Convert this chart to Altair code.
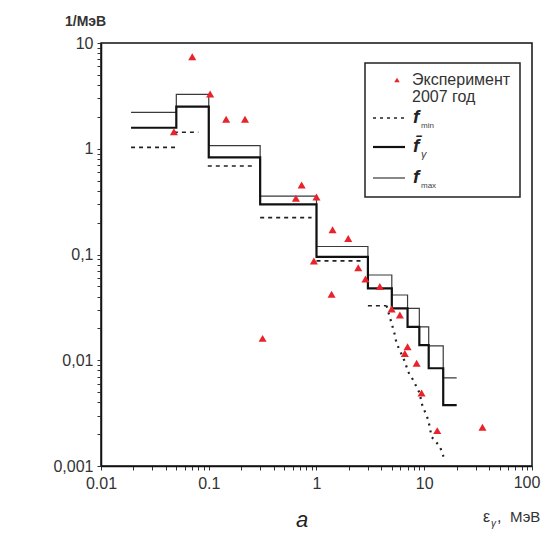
import altair as alt
import pandas as pd

# ---- data ----
edges = [0.019, 0.05, 0.1, 0.3, 1, 3, 5, 7, 9, 11, 15, 20]
mean_vals = [1.58, 2.5, 0.83, 0.298, 0.095, 0.0479, 0.031, 0.0207, 0.0139, 0.0084, 0.00377]
max_vals = [2.21, 3.27, 1.07, 0.357, 0.119, 0.064, 0.0414, 0.031, 0.0207, 0.0137, 0.0068]

min_x0 = [0.019, 0.0475, 0.098, 0.30, 1.0, 3.0]
min_x1 = [0.05, 0.08, 0.26, 0.9, 2.75, 4.47]
min_y = [1.03, 1.43, 0.687, 0.223, 0.087, 0.0328]

tail_x = [4.47, 4.98, 5.34, 5.53, 6.61, 7.09, 7.89, 9.1, 9.44, 10.9, 11.7, 14.0, 15.3]
tail_y = [0.0328, 0.0223, 0.0173, 0.0145, 0.0097, 0.00778, 0.0065, 0.00486, 0.00392,
          0.00272, 0.00189, 0.00152, 0.00118]

exp_x = [0.0475, 0.0703, 0.103, 0.145, 0.217, 0.316, 0.644, 0.728, 1.0, 0.946, 1.41,
         1.97, 1.38, 2.44, 2.85, 3.87, 4.98, 5.94, 7.0, 6.6, 8.5, 9.44, 13.2, 34.7]
exp_y = [1.45, 7.4, 3.3, 1.9, 1.9, 0.0161, 0.34, 0.454, 0.35, 0.087, 0.171,
         0.142, 0.042, 0.075, 0.0586, 0.0497, 0.0305, 0.0268, 0.0134, 0.0116, 0.00935,
         0.0049, 0.00216, 0.00232]

x_tick_values = [0.01, 0.1, 1, 10, 100]
x_tick_labels = ["0.01", "0.1", "1", "10", "100"]
y_tick_values = [10, 1, 0.1, 0.01, 0.001]
y_tick_labels = ["10", "1", "0,1", "0,01", "0,001"]

legend_texts = ["Эксперимент", "2007 год"]
y_title = "1/МэВ"
x_title_parts = ["ε", "γ", ",", "МэВ"]
panel_label = "а"

FONT = "Liberation Sans"
TXT = "#333333"

xd = sorted(x_tick_values)
yd = sorted(y_tick_values)
x_all = x_tick_values + [m * d for d in xd[:-1] for m in range(2, 10)]
y_all = y_tick_values + [m * d for d in yd[:-1] for m in range(2, 10)]


def label_expr(vals, labs, skip_last=False):
    expr = "''"
    pairs = list(zip(vals, labs))
    if skip_last:
        pairs = pairs[:-1]
    for v, l in pairs:
        expr = f"datum.value == {v} ? '{l}' : ({expr})"
    return expr


xs = alt.Scale(type="log", domain=[0.01, 100], nice=False)
ys = alt.Scale(type="log", domain=[0.001, 10], nice=False)

# the last x label ("100") sits at the canvas edge, it is drawn as a text mark below
x_axis = alt.Axis(values=x_all,
                  labelExpr=label_expr(x_tick_values, x_tick_labels, skip_last=True),
                  title=None, grid=False, labelOverlap=False, labelFlush=False,
                  labelPadding=5)
y_axis = alt.Axis(values=y_all, labelExpr=label_expr(y_tick_values, y_tick_labels),
                  title=None, grid=False, labelOverlap=False, labelFlush=False,
                  labelPadding=4)

df_mean = pd.DataFrame({"x": edges, "y": mean_vals + [mean_vals[-1]]})
df_max = pd.DataFrame({"x": edges, "y": max_vals + [max_vals[-1]]})
df_min = pd.DataFrame({"x0": min_x0, "x1": min_x1, "y": min_y})
df_tail = pd.DataFrame({"x": tail_x, "y": tail_y})
df_exp = pd.DataFrame({"x": exp_x, "y": exp_y})
df_last_lab = pd.DataFrame({"x": [x_tick_values[-1]], "t": [x_tick_labels[-1]]})
one = pd.DataFrame({"k": [0]})

max_line = alt.Chart(df_max).mark_line(interpolate="step-after", color="#3a3a3a",
                                       strokeWidth=1.2).encode(
    x=alt.X("x:Q", scale=xs, axis=x_axis),
    y=alt.Y("y:Q", scale=ys, axis=y_axis),
)
mean_line = alt.Chart(df_mean).mark_line(interpolate="step-after", color="#111111",
                                         strokeWidth=2.2).encode(
    x=alt.X("x:Q", scale=xs), y=alt.Y("y:Q", scale=ys))
min_rules = alt.Chart(df_min).mark_rule(color="#222222", strokeWidth=1.6,
                                        strokeDash=[4, 4]).encode(
    x=alt.X("x0:Q", scale=xs), x2="x1:Q", y=alt.Y("y:Q", scale=ys))
min_tail = alt.Chart(df_tail).mark_line(color="#222222", strokeWidth=2.2,
                                        strokeDash=[2, 5]).encode(
    x=alt.X("x:Q", scale=xs), y=alt.Y("y:Q", scale=ys))
points = alt.Chart(df_exp).mark_point(shape="triangle-up", filled=True, color="#e8232b",
                                      size=65, opacity=1).encode(
    x=alt.X("x:Q", scale=xs), y=alt.Y("y:Q", scale=ys))
last_lab = alt.Chart(df_last_lab).mark_text(font=FONT, fontSize=16, color=TXT,
                                            align="center", baseline="top", dx=-5).encode(
    x=alt.X("x:Q", scale=xs), y=alt.value(432), text="t:N")

# ---- legend (drawn by hand) ----
leg_box = alt.Chart(one).mark_rect(fill="white", stroke="#222222", strokeWidth=1.5).encode(
    x=alt.value(264), x2=alt.value(419), y=alt.value(20), y2=alt.value(154))
leg_pt = alt.Chart(one).mark_point(shape="triangle-up", filled=True, color="#e8232b",
                                   size=30, opacity=1).encode(
    x=alt.value(296), y=alt.value(37))
leg_min = alt.Chart(one).mark_rule(color="#222222", strokeWidth=1.6, strokeDash=[3, 4]).encode(
    x=alt.value(272), x2=alt.value(303), y=alt.value(75))
leg_mean = alt.Chart(one).mark_rule(color="#111111", strokeWidth=2.2).encode(
    x=alt.value(272), x2=alt.value(304), y=alt.value(104))
leg_max = alt.Chart(one).mark_rule(color="#3a3a3a", strokeWidth=1.2).encode(
    x=alt.value(272), x2=alt.value(304), y=alt.value(135))


def txt(s, x, y, size=16, style="normal", weight="normal", align="left", color=TXT,
        baseline="middle"):
    return alt.Chart(one).mark_text(align=align, baseline=baseline, font=FONT,
                                    fontSize=size, fontStyle=style, fontWeight=weight,
                                    color=color).encode(
        x=alt.value(x), y=alt.value(y), text=alt.value(s))


texts = [
    txt(legend_texts[0], 311, 37),
    txt(legend_texts[1], 311, 54),
    txt("f", 312, 74, size=19, style="italic", weight="bold", color="#222"),
    txt("min", 320, 83, size=8, color="#444"),
    txt("f\u0304", 312, 103, size=19, style="italic", weight="bold", color="#222"),
    txt("γ", 320, 112, size=11, style="italic", color="#444"),
    txt("f", 312, 134, size=19, style="italic", weight="bold", color="#222"),
    txt("max", 320, 143, size=8, color="#444"),
    txt(y_title, -36, -21, size=14, weight="bold"),
    txt(x_title_parts[0], 382, 474, size=16),
    txt(x_title_parts[1], 390, 481, size=10, style="italic"),
    txt(x_title_parts[2], 396, 474, size=16),
    txt(x_title_parts[3], 409, 474, size=15),
    txt(panel_label, 201, 484, size=22, style="italic", align="center", color="#222",
        baseline="alphabetic"),
]

chart = alt.layer(max_line, mean_line, min_rules, min_tail, points, last_lab,
                  leg_box, leg_pt, leg_min, leg_mean, leg_max, *texts).properties(
    width=431, height=423,
    autosize=alt.AutoSizeParams(type="none"),
    padding={"left": 93, "top": 35, "right": 12, "bottom": 65},
    background="white",
).configure_view(stroke="#111111", strokeWidth=1.5).configure_axis(
    domainColor="#111111", domainWidth=1.5, tickColor="#333333", tickSize=4,
    labelFont=FONT, labelFontSize=16, labelColor=TXT,
)

chart.save("out.html", embed_options={"renderer": "svg", "actions": False})
